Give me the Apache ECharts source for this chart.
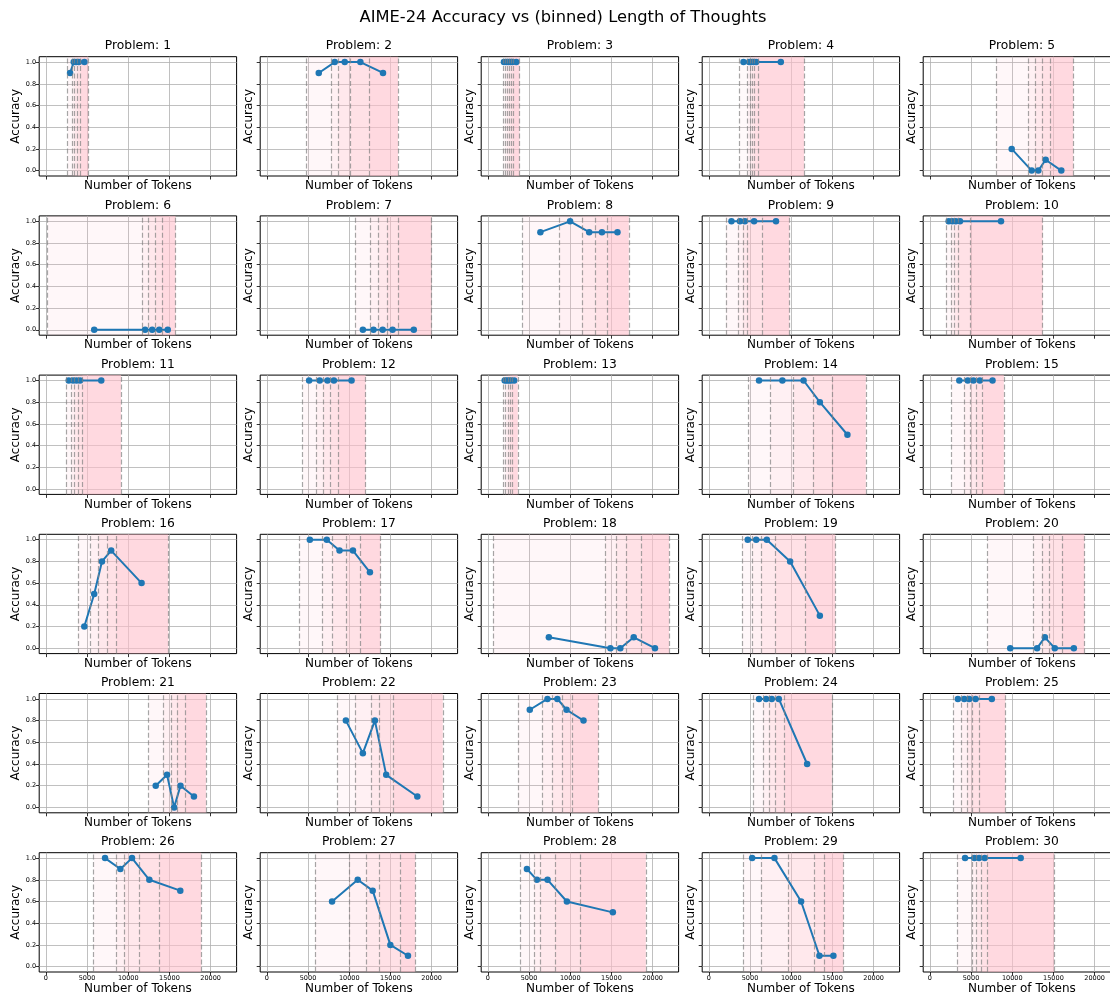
<!DOCTYPE html>
<html><head><meta charset="utf-8">
<script src="https://cdn.jsdelivr.net/npm/echarts@6/dist/echarts.min.js"></script>
<style>html,body{margin:0;padding:0;background:#fff}#c{width:1110px;height:996px}</style>
</head><body><div id="c"></div>
<script>
const mainTitle = 'AIME-24 Accuracy vs (binned) Length of Thoughts';
const problemIds = [1,2,3,4,5,6,7,8,9,10,11,12,13,14,15,16,17,18,19,20,21,22,23,24,25,26,27,28,29,30];
const xTicks = [0, 5000, 10000, 15000, 20000];
const yTicks = [0, 0.2, 0.4, 0.6, 0.8, 1.0];

const binEdges = [
  [2663, 3228, 3511, 3834, 4198, 5168],
  [4808, 7838, 8646, 10182, 12404, 15919],
  [1838, 2121, 2364, 2606, 2848, 3091, 3859],
  [3725, 4695, 5018, 5261, 5503, 5988, 11564],
  [8036, 11915, 12764, 13612, 14582, 17410],
  [210, 11708, 12480, 13338, 14110, 15741],
  [10712, 12514, 13543, 14573, 15947, 19979],
  [4236, 8697, 11442, 13074, 14532, 17107],
  [2061, 3521, 4121, 4636, 6525, 9784],
  [1948, 2549, 2978, 3407, 4865, 13704],
  [2441, 3127, 3470, 3899, 4415, 9133],
  [4362, 5993, 6851, 7709, 8652, 11999],
  [1919, 2176, 2433, 2691, 2948, 3635],
  [4808, 7468, 10299, 12617, 14934, 19052],
  [2635, 4179, 4952, 5638, 6410, 8984],
  [3899, 5444, 6388, 7418, 8533, 14882],
  [3933, 6765, 7966, 9682, 11399, 13801],
  [632, 14275, 15562, 16764, 18651, 21998],
  [4035, 5238, 6353, 8069, 11759, 15362],
  [7011, 12589, 13618, 14476, 16021, 18766],
  [12480, 14282, 15226, 15913, 16942, 19430],
  [8567, 10712, 12686, 13629, 15345, 21352],
  [3635, 6638, 7839, 9040, 10242, 13417],
  [5409, 6610, 7297, 8069, 9184, 14934],
  [2892, 3836, 4522, 5124, 5982, 9156],
  [5814, 8562, 9531, 11349, 13815, 18864],
  [5859, 9980, 12081, 13657, 16242, 18020],
  [3939, 5636, 6364, 8141, 11172, 19172],
  [4210, 6311, 9584, 12816, 13988, 16331],
  [3309, 5208, 5693, 6299, 6986, 15067]
];

const meanTokens = [
  [2945, 3390, 3673, 3996, 4683],
  [6303, 8242, 9455, 11354, 14101],
  [1960, 2242, 2485, 2727, 2970, 3455],
  [4210, 4897, 5139, 5422, 5745, 8736],
  [9935, 12360, 13168, 14057, 15955],
  [5873, 12051, 12909, 13767, 14796],
  [11656, 12943, 14058, 15259, 17834],
  [6380, 9984, 12302, 13846, 15735],
  [2748, 3778, 4379, 5494, 8154],
  [2291, 2720, 3149, 3664, 8641],
  [2784, 3299, 3727, 4156, 6731],
  [5135, 6422, 7365, 8138, 10283],
  [2048, 2303, 2558, 2824, 3205],
  [6094, 8927, 11501, 13474, 16820],
  [3578, 4608, 5295, 6067, 7612],
  [4672, 5873, 6817, 7932, 11622],
  [5221, 7280, 8824, 10455, 12514],
  [7410, 14875, 16077, 17707, 20281],
  [4722, 5752, 7039, 9870, 13474],
  [9758, 13017, 13961, 15162, 17479],
  [13338, 14711, 15569, 16342, 17972],
  [9596, 11656, 13114, 14487, 18263],
  [5093, 7239, 8440, 9555, 11615],
  [6094, 6953, 7640, 8498, 11930],
  [3407, 4179, 4780, 5552, 7526],
  [7188, 9046, 10461, 12562, 16319],
  [7919, 11030, 12848, 14990, 17131],
  [4747, 5960, 7252, 9596, 15172],
  [5261, 7968, 11200, 13422, 15119],
  [4279, 5410, 5976, 6663, 11027]
];

const accuracy = [
  [0.9, 1, 1, 1, 1],
  [0.9, 1, 1, 1, 0.9],
  [1, 1, 1, 1, 1, 1],
  [1, 1, 1, 1, 1, 1],
  [0.2, 0, 0, 0.1, 0],
  [0, 0, 0, 0, 0],
  [0, 0, 0, 0, 0],
  [0.9, 1, 0.9, 0.9, 0.9],
  [1, 1, 1, 1, 1],
  [1, 1, 1, 1, 1],
  [1, 1, 1, 1, 1],
  [1, 1, 1, 1, 1],
  [1, 1, 1, 1, 1],
  [1, 1, 1, 0.8, 0.5],
  [1, 1, 1, 1, 1],
  [0.2, 0.5, 0.8, 0.9, 0.6],
  [1, 1, 0.9, 0.9, 0.7],
  [0.1, 0, 0, 0.1, 0],
  [1, 1, 1, 0.8, 0.3],
  [0, 0, 0.1, 0, 0],
  [0.2, 0.3, 0, 0.2, 0.1],
  [0.8, 0.5, 0.8, 0.3, 0.1],
  [0.9, 1, 1, 0.9, 0.8],
  [1, 1, 1, 1, 0.4],
  [1, 1, 1, 1, 1],
  [1, 0.9, 1, 0.8, 0.7],
  [0.6, 0.8, 0.7, 0.2, 0.1],
  [0.9, 0.8, 0.8, 0.6, 0.5],
  [1, 1, 0.6, 0.1, 0.1],
  [1, 1, 1, 1, 1]
];

const FONT = 'DejaVu Sans';
const X_MIN = -800, X_MAX = 23150, Y_MIN = -0.05, Y_MAX = 1.05;
const COL_LEFT0 = 39.2, COL_STEP = 221.0, ROW_TOP0 = 56.7, ROW_STEP = 159.2, W = 197.4, H = 119.3;

const grids = [], xAxes = [], yAxes = [], series = [], titles = [];
titles.push({text: mainTitle, left: 563, top: 10, textAlign: 'center', padding: 0,
  textStyle: {fontFamily: FONT, fontSize: 16.3, fontWeight: 'normal', color: '#000'}});

problemIds.forEach((pid, i) => {
  const r = Math.floor(i / 5), c = i % 5;
  const left = COL_LEFT0 + c * COL_STEP, top = ROW_TOP0 + r * ROW_STEP;
  grids.push({left: left, top: top, width: W, height: H, show: true, borderColor: '#000', borderWidth: 1,
    backgroundColor: 'rgba(0,0,0,0)', containLabel: false, outerBoundsMode: 'none'});
  titles.push({text: 'Problem: ' + pid, left: left + W / 2, top: top - 16.5, textAlign: 'center', padding: 0,
    textStyle: {fontFamily: FONT, fontSize: 12.3, fontWeight: 'normal', color: '#000'}});
  xAxes.push({gridIndex: i, type: 'value', min: X_MIN, max: X_MAX,
    axisLine: {show: false, onZero: false},
    axisTick: {show: true, inside: false, length: 3.5, customValues: xTicks, lineStyle: {color: '#000', width: 0.8}},
    axisLabel: {show: r === 5, customValues: xTicks, formatter: v => String(Math.round(v)), fontSize: 6.5, color: '#000', margin: 3, fontFamily: FONT},
    splitLine: {show: true, lineStyle: {color: '#b0b0b0', width: 0.8}},
    name: 'Number of Tokens', nameLocation: 'middle', nameGap: r === 5 ? 10 : 4,
    nameTextStyle: {fontSize: 12, fontFamily: FONT, color: '#000'}});
  yAxes.push({gridIndex: i, type: 'value', min: Y_MIN, max: Y_MAX,
    axisLine: {show: false, onZero: false},
    axisTick: {show: true, inside: false, length: 3.5, customValues: yTicks, lineStyle: {color: '#000', width: 0.8}},
    axisLabel: {show: c === 0, customValues: yTicks, formatter: v => Number(v).toFixed(1), fontSize: 6.5, color: '#000', margin: 3, fontFamily: FONT},
    splitLine: {show: true, lineStyle: {color: '#b0b0b0', width: 0.8}},
    name: 'Accuracy', nameLocation: 'middle', nameGap: c === 0 ? 16 : 5, nameRotate: 90,
    nameTextStyle: {fontSize: 12, fontFamily: FONT, color: '#000'}});

  const edges = binEdges[i];
  const nb = edges.length - 1;
  const areas = [];
  for (let k = 0; k < nb; k++) {
    const a = 0.6 * (k + 1) / nb;
    areas.push([{xAxis: edges[k], itemStyle: {color: 'rgba(255,192,203,' + a.toFixed(3) + ')'}}, {xAxis: edges[k + 1]}]);
  }
  series.push({type: 'line', xAxisIndex: i, yAxisIndex: i, data: [], z: 1, silent: true,
    markArea: {silent: true, data: areas},
    markLine: {silent: true, symbol: ['none', 'none'], label: {show: false}, animation: false,
      lineStyle: {type: [5, 2.5], color: 'rgba(128,128,128,0.7)', width: 1.2},
      data: edges.map(e => ({xAxis: e}))}});
  series.push({type: 'line', xAxisIndex: i, yAxisIndex: i, z: 3,
    data: meanTokens[i].map((x, k) => [x, accuracy[i][k]]),
    symbol: 'circle', symbolSize: 6.5, showSymbol: true,
    itemStyle: {color: '#1f77b4'}, lineStyle: {color: '#1f77b4', width: 2}});
});

const chart = echarts.init(document.getElementById('c'), null, {renderer: 'canvas'});
chart.setOption({animation: false, backgroundColor: '#fff', textStyle: {fontFamily: FONT},
  title: titles, grid: grids, xAxis: xAxes, yAxis: yAxes, series: series});
</script></body></html>
